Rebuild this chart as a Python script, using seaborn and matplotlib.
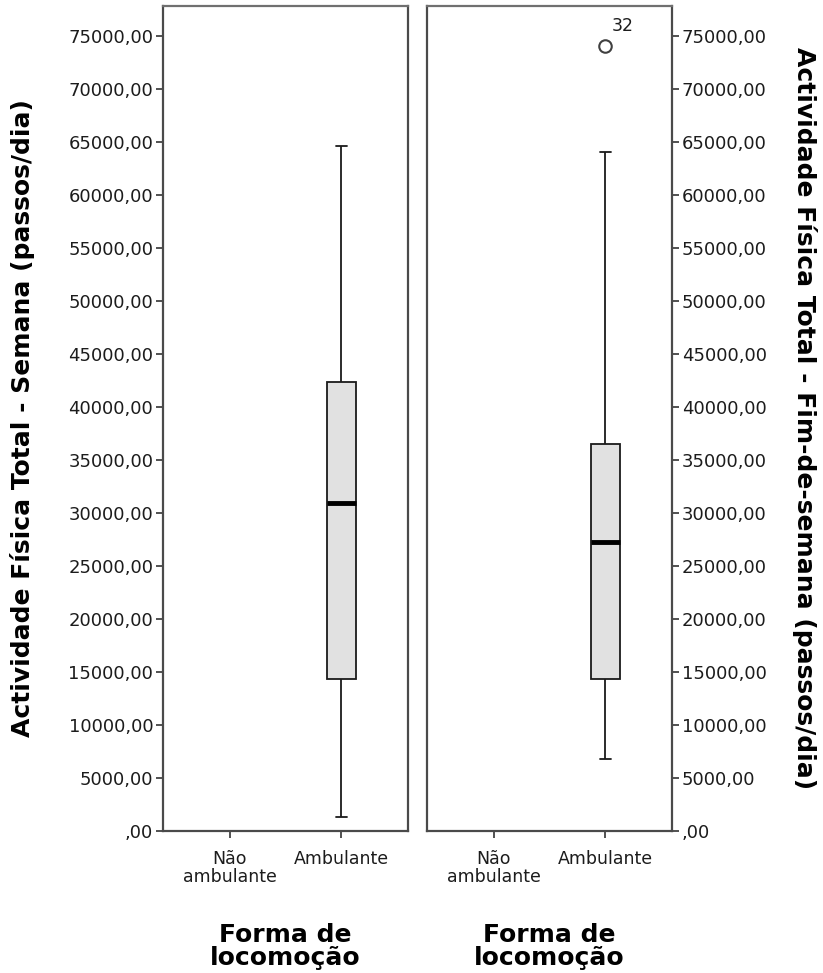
import matplotlib
matplotlib.use("Agg")
import matplotlib.pyplot as plt
import seaborn as sns
import pandas as pd
from matplotlib.ticker import FixedLocator, FuncFormatter

# ---- data (five-number summaries) ----
categories = ["Não\nambulante", "Ambulante"]
semana_ambulante = [1350, 14310, 30970, 42360, 64560]          # min, Q1, median, Q3, max
fimsemana_ambulante = [6760, 14340, 27240, 36500, 63990]       # min, Q1, median, Q3, max
fimsemana_outlier = [74060]
fimsemana_outlier_label = ["32"]
yticks = list(range(0, 75001, 5000))

ylabel_left = "Actividade Física Total - Semana (passos/dia)"
ylabel_right = "Actividade Física Total - Fim-de-semana (passos/dia)"
xlabel = "Forma de\nlocomoção"

sns.set_theme(style="white")
plt.rcParams["font.family"] = ["DejaVu Sans"]

TXT = "#1c1c1c"

fig = plt.figure(figsize=(8.23, 9.73), dpi=100)
ax1 = fig.add_axes([163 / 823, 142 / 973, 245 / 823, 825 / 973])
ax2 = fig.add_axes([427 / 823, 142 / 973, 245 / 823, 825 / 973])

def fmt(v, pos=None):
    if v == 0:
        return ",00"
    return f"{v:.2f}".replace(".", ",")

box_kws = dict(order=categories, width=0.26, color="#e1e1e1", saturation=1,
               linecolor="#1a1a1a", linewidth=1.3, showfliers=False,
               medianprops=dict(linewidth=3.5, color="black"),
               capwidths=0.1)

df1 = pd.DataFrame({"grupo": ["Ambulante"] * len(semana_ambulante), "v": semana_ambulante})
df2 = pd.DataFrame({"grupo": ["Ambulante"] * len(fimsemana_ambulante), "v": fimsemana_ambulante})

sns.boxplot(data=df1, x="grupo", y="v", ax=ax1, **box_kws)
sns.boxplot(data=df2, x="grupo", y="v", ax=ax2, **box_kws)

# outlier
xo = [categories.index("Ambulante")] * len(fimsemana_outlier)
ax2.plot(xo, fimsemana_outlier, linestyle="none", marker="o", markersize=9,
         markerfacecolor="white", markeredgecolor="#404040", markeredgewidth=1.5, zorder=5)
for x, y, lab in zip(xo, fimsemana_outlier, fimsemana_outlier_label):
    ax2.annotate(lab, (x, y), xytext=(5, 8), textcoords="offset points",
                 fontsize=12.5, color=TXT, ha="left", va="bottom")

for ax in (ax1, ax2):
    ax.set_xlim(-0.6, 1.6)
    ax.set_ylim(0, 77800)
    ax.yaxis.set_major_locator(FixedLocator(yticks))
    ax.yaxis.set_major_formatter(FuncFormatter(fmt))
    ax.set_xticks(range(len(categories)))
    ax.set_xticklabels(categories, fontsize=12.5, color=TXT, linespacing=0.95)
    for s in ax.spines.values():
        s.set_visible(True)
        s.set_color("#4a4a4a")
        s.set_linewidth(1.6)
    ax.spines["top"].set_color("#707070")
    ax.tick_params(axis="both", direction="out", length=5, width=1.2, color="#333333",
                   labelcolor=TXT)
    ax.tick_params(axis="y", labelsize=13)
    ax.tick_params(axis="x", bottom=True, pad=9)
    ax.set_xlabel(xlabel, fontsize=18, fontweight="bold", labelpad=27, linespacing=0.95,
                  color="black")
    ax.grid(False)

ax1.tick_params(axis="y", left=True, right=False, pad=2)
ax1.set_ylabel(ylabel_left, fontsize=18, fontweight="bold", labelpad=24, color="black")

ax2.yaxis.tick_right()
ax2.yaxis.set_label_position("right")
ax2.tick_params(axis="y", left=False, right=True, labelleft=False, labelright=True, pad=2)
ax2.set_ylabel(ylabel_right, fontsize=18, fontweight="bold", rotation=270, labelpad=36,
               color="black")

fig.savefig("out.png", dpi=100, facecolor="white")
